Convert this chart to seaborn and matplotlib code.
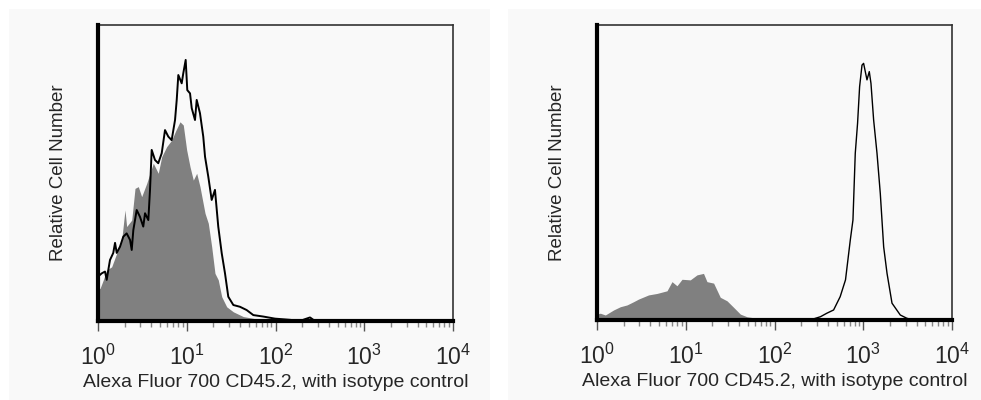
import numpy as np
import pandas as pd
import matplotlib
matplotlib.use("Agg")
import matplotlib.pyplot as plt
import seaborn as sns
from matplotlib.ticker import LogLocator, LogFormatterSciNotation, NullFormatter

# ---------------------------------------------
# Data (x in log10 decades, y as fraction of peak axis height)
# ---------------------------------------------

# left panel, open (stained) histogram
left_open_log = [0.0, 0.042, 0.079, 0.098, 0.116, 0.135, 0.172, 0.192, 0.211, 0.248, 0.285,
                 0.323, 0.361, 0.380, 0.398, 0.436, 0.473, 0.510, 0.530, 0.567, 0.586,
                 0.605, 0.642, 0.679, 0.718, 0.755, 0.792, 0.830, 0.868, 0.887, 0.905,
                 0.943, 0.961, 0.988, 1.006, 1.037, 1.056, 1.093, 1.112, 1.149, 1.186,
                 1.206, 1.243, 1.281, 1.318, 1.355, 1.394, 1.431, 1.468, 1.525, 1.600,
                 1.675, 1.750, 1.863, 1.994, 2.163, 2.276, 2.330, 2.389, 2.445, 3.0, 4.0]
left_open_h = [0.150, 0.161, 0.167, 0.139, 0.172, 0.206, 0.230, 0.264, 0.230, 0.251, 0.285,
               0.296, 0.274, 0.240, 0.307, 0.375, 0.352, 0.319, 0.364, 0.341, 0.443,
               0.578, 0.544, 0.533, 0.567, 0.645, 0.623, 0.611, 0.679, 0.747, 0.831,
               0.803, 0.837, 0.882, 0.780, 0.769, 0.719, 0.679, 0.747, 0.702, 0.623,
               0.555, 0.487, 0.409, 0.443, 0.319, 0.229, 0.161, 0.082, 0.054, 0.048,
               0.037, 0.020, 0.015, 0.008, 0.004, 0.0, 0.006, 0.012, 0.0, 0.0, 0.0]

# left panel, filled (isotype control) histogram
left_iso_log = [0.0, 0.023, 0.060, 0.098, 0.154, 0.211, 0.267, 0.304, 0.323, 0.380, 0.417,
                0.454, 0.492, 0.549, 0.586, 0.623, 0.679, 0.718, 0.774, 0.830, 0.879,
                0.924, 0.961, 0.999, 1.037, 1.074, 1.112, 1.149, 1.206, 1.243, 1.281,
                1.318, 1.355, 1.394, 1.450, 1.525, 1.637, 1.750, 1.850, 4.0]
left_iso_h = [0.110, 0.110, 0.139, 0.172, 0.183, 0.229, 0.274, 0.375, 0.319, 0.341, 0.448,
              0.454, 0.420, 0.465, 0.499, 0.533, 0.499, 0.555, 0.589, 0.611, 0.645,
              0.673, 0.662, 0.578, 0.521, 0.476, 0.499, 0.454, 0.364, 0.330, 0.251,
              0.161, 0.139, 0.082, 0.048, 0.031, 0.015, 0.009, 0.0, 0.0]

# right panel, open (stained) histogram
right_open_log = [0.0, 2.40, 2.517, 2.59, 2.666, 2.74, 2.80, 2.854, 2.884, 2.91, 2.936,
                  2.959, 2.986, 3.004, 3.042, 3.068, 3.087, 3.117, 3.155, 3.192, 3.23,
                  3.268, 3.324, 3.417, 3.49, 3.56, 4.0]
right_open_h = [0.0, 0.0, 0.011, 0.023, 0.034, 0.079, 0.136, 0.271, 0.339, 0.565, 0.667,
                0.791, 0.864, 0.870, 0.814, 0.842, 0.802, 0.678, 0.565, 0.429, 0.248,
                0.158, 0.057, 0.017, 0.006, 0.0, 0.0]

# right panel, filled (isotype control) histogram
right_iso_log = [0.0, 0.037, 0.094, 0.187, 0.263, 0.338, 0.412, 0.469, 0.581, 0.676, 0.789,
                 0.845, 0.901, 0.958, 1.051, 1.127, 1.20, 1.239, 1.314, 1.389, 1.465,
                 1.539, 1.615, 1.69, 1.80, 1.99, 2.05, 4.0]
right_iso_h = [0.02, 0.023, 0.017, 0.034, 0.045, 0.051, 0.062, 0.071, 0.085, 0.090, 0.099,
               0.130, 0.116, 0.138, 0.136, 0.153, 0.158, 0.130, 0.125, 0.077, 0.065,
               0.043, 0.020, 0.011, 0.006, 0.006, 0.0, 0.0]

x_label = "Alexa Fluor 700 CD45.2, with isotype control"
y_label = "Relative Cell Number"

panels = [
    (left_open_log, left_open_h, left_iso_log, left_iso_h, 1.4),
    (right_open_log, right_open_h, right_iso_log, right_iso_h, 1.0),
]

# ---------------------------------------------
# Style
# ---------------------------------------------
sns.set_style("white")
plt.rcParams['font.family'] = ['Liberation Sans', 'DejaVu Sans']

fig = plt.figure(figsize=(9.81, 4.0), dpi=100)
fig.patch.set_facecolor('white')

bg = '#f9f9f9'
# light panel backgrounds
fig.add_artist(plt.Rectangle((9 / 981, 0), 481 / 981, 391 / 400, transform=fig.transFigure,
                             facecolor=bg, edgecolor='none', zorder=0))
fig.add_artist(plt.Rectangle((508 / 981, 0), 473 / 981, 391 / 400, transform=fig.transFigure,
                             facecolor=bg, edgecolor='none', zorder=0))

axes_pos = [[98 / 981, 0.1975, 355 / 981, 0.74],
            [597 / 981, 0.20, 355 / 981, 0.7375]]

for pos, (o_log, o_h, i_log, i_h, lw) in zip(axes_pos, panels):
    ax = fig.add_axes(pos)
    ax.set_facecolor(bg)

    iso = pd.DataFrame({'x': 10 ** np.array(i_log), 'h': i_h})
    opn = pd.DataFrame({'x': 10 ** np.array(o_log), 'h': o_h})

    ax.fill_between(iso['x'], iso['h'], color='#808080', lw=0, zorder=2)
    sns.lineplot(data=opn, x='x', y='h', ax=ax, color='black', lw=lw, zorder=3,
                 estimator=None, sort=False)

    ax.set_xscale('log')
    ax.set_xlim(1, 1e4)
    ax.set_ylim(0, 1)

    ax.xaxis.set_major_locator(LogLocator(base=10, numticks=10))
    ax.xaxis.set_major_formatter(LogFormatterSciNotation())
    ax.xaxis.set_minor_locator(LogLocator(base=10, subs=np.arange(2, 10), numticks=10))
    ax.xaxis.set_minor_formatter(NullFormatter())
    ax.tick_params(axis='x', which='major', direction='out', length=7, width=1,
                   color='#555555', labelsize=16.5, pad=10, bottom=True)
    ax.tick_params(axis='x', which='minor', direction='out', length=4, width=1,
                   color='#888888', bottom=True)
    ax.set_yticks([])

    for side in ['top', 'right']:
        ax.spines[side].set_linewidth(1.2)
        ax.spines[side].set_color('#333333')
    for side in ['left', 'bottom']:
        ax.spines[side].set_linewidth(3)
        ax.spines[side].set_color('black')
        ax.spines[side].set_zorder(5)

    ax.set_xlabel(x_label, fontsize=14, labelpad=3)
    ax.set_ylabel(y_label, fontsize=13.5, labelpad=22)

fig.savefig('out.png', dpi=100, facecolor='white')
